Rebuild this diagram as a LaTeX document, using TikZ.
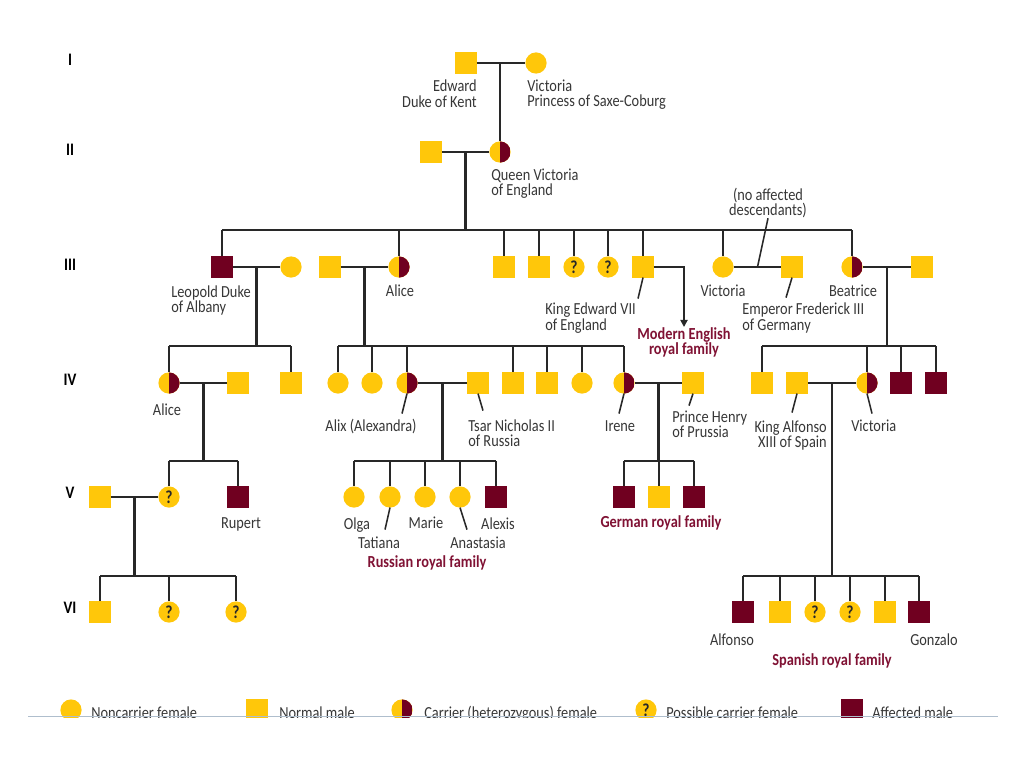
\documentclass[tikz,border=0pt]{standalone}
\usepackage{fontspec}
\setmainfont{Carlito}[FakeStretch=0.85]
\usetikzlibrary{arrows.meta,calc}
\definecolor{ink}{RGB}{40,40,40}
\definecolor{txt}{RGB}{55,55,55}
\definecolor{gold}{RGB}{255,199,10}
\definecolor{maroon}{RGB}{112,0,32}
\definecolor{famred}{RGB}{128,18,52}
\definecolor{rulegray}{RGB}{175,190,205}
\tikzset{
    kin/.style={draw=ink, line width=1.5pt},
    leader/.style={draw=ink, line width=1.1pt},
    sym/.style={minimum size=0.53cm, inner sep=0pt, outer sep=0pt},
    male/.style={sym, rectangle, fill=gold},
    affected/.style={sym, rectangle, fill=maroon},
    female/.style={sym, circle, fill=gold},
    carrier/.style={
        female,
        path picture={\fill[maroon] (path picture bounding box.north) rectangle (path picture bounding box.south east);}
    },
    possible/.style={
        female,
        label={[inner sep=0pt, text=ink, font=\bfseries\fontsize{13}{13}\selectfont]center:?}
    },
    pname/.style={inner sep=0pt, text=txt, font=\fontsize{12}{10.7}\selectfont},
    famlabel/.style={inner sep=0pt, text=famred, align=center, font=\bfseries\fontsize{12}{10.7}\selectfont},
    genlabel/.style={inner sep=0pt, text=black, font=\bfseries\fontsize{12.5}{12.5}\selectfont}
}

\begin{document}
\begin{tikzpicture}[x=0.025cm, y=-0.025cm]
\useasboundingbox[fill=white] (0,0) rectangle (1024,768);

% generations
\foreach \g/\y in {I/60, II/150, III/265, IV/380, V/493, VI/608}
    \node[genlabel] (gen\g) at (70,\y) {\g};

% people
\node[male] (edward) at (466,63) {};
\node[female] (victoria) at (536,63) {};
\node[male] (consort) at (431,152) {};
\node[carrier] (queen) at (500,152) {};
\foreach \n/\s/\x in {leopold/affected/222, leowife/female/291, alicehus/male/330, alice/carrier/399,
    son1/male/504, son2/male/539, dau1/possible/574, dau2/possible/608, edward7/male/643,
    vicIII/female/723, frederick/male/792, beatrice/carrier/852, beahus/male/922}
    \node[\s] (\n) at (\x,267) {};
\foreach \n/\s/\x in {aliceIV/carrier/169, aliceIVhus/male/238, leoson/male/291, hesse1/female/338,
    hesse2/female/372, alix/carrier/407, tsar/male/478, hesse4/male/513, hesse5/male/547,
    hesse6/female/582, irene/carrier/624, henry/male/693, bea1/male/762, alfonsoXIII/male/797,
    vicIV/carrier/867, bea3/affected/901, bea4/affected/936}
    \node[\s] (\n) at (\x,383) {};
\foreach \n/\s/\x in {vhus/male/100, vdau/possible/169, rupert/affected/238, olga/female/354,
    tatiana/female/390, marie/female/425, anastasia/female/460, alexis/affected/496,
    ger1/affected/624, ger2/male/659, ger3/affected/694}
    \node[\s] (\n) at (\x,497) {};
\foreach \n/\s/\x in {six1/male/100, six2/possible/169, six3/possible/236, sp1/affected/743,
    sp2/male/780, sp3/possible/815, sp4/possible/850, sp5/male/885, sp6/affected/919}
    \node[\s] (\n) at (\x,612) {};

% marriages
\foreach \a/\b in {edward/victoria, consort/queen, leopold/leowife, alicehus/alice, vicIII/frederick,
    beatrice/beahus, aliceIV/aliceIVhus, alix/tsar, irene/henry, alfonsoXIII/vicIV, vhus/vdau}
    \draw[kin] (\a) -- (\b);
\draw[kin] (queen.north |- edward) -- (queen.north);

% descent lines and sibling bars
\foreach \a/\b/\y/\first/\last/\kids in {
    consort/queen/230/leopold/beatrice/{leopold,alice,son1,son2,dau1,dau2,edward7,vicIII,beatrice},
    leopold/leowife/346/aliceIV/leoson/{aliceIV,leoson},
    alicehus/alice/346/hesse1/irene/{hesse1,hesse2,alix,hesse4,hesse5,hesse6,irene},
    beatrice/beahus/346/bea1/bea4/{bea1,vicIV,bea3,bea4},
    aliceIV/aliceIVhus/461/vdau/rupert/{vdau,rupert},
    alix/tsar/461/olga/alexis/{olga,tatiana,marie,anastasia,alexis},
    irene/henry/461/ger1/ger3/{ger1,ger2,ger3},
    alfonsoXIII/vicIV/576/sp1/sp6/{sp1,sp2,sp3,sp4,sp5,sp6},
    vhus/vdau/576/six1/six3/{six1,six2,six3}} {
    \coordinate (mid) at ($(\a)!.5!(\b)$);
    \coordinate (bar) at (0,\y);
    \draw[kin] (mid) -- (mid |- bar);
    \draw[kin] (bar -| \first) -- (bar -| \last);
    \foreach \c in \kids
        \draw[kin] (bar -| \c) -- (\c.north);
}

% names
\node[pname, anchor=north east, align=right] (edwardtxt) at (477,80) {Edward\\Duke of Kent};
\node[pname, anchor=north west, align=left] (victoriatxt) at (527,80) {Victoria\\Princess of Saxe-Coburg};
\node[pname, anchor=north west, align=left] (queentxt) at (491,169) {Queen Victoria\\of England};
\node[pname, anchor=north west, align=left] (leopoldtxt) at (171,285) {Leopold Duke\\of Albany};
\node[pname, anchor=north] (alicetxt) at (400,285) {Alice};
\node[pname, anchor=north west, align=left] (edward7txt) at (545,303) {King Edward VII\\of England};
\node[pname, anchor=north] (vicIIItxt) at (723,285) {Victoria};
\node[pname, anchor=north, align=center] (nodesc) at (768,188) {(no affected\\descendants)};
\node[pname, anchor=north west, align=left] (fredericktxt) at (742,303) {Emperor Frederick III\\of Germany};
\node[pname, anchor=north] (beatricetxt) at (853,285) {Beatrice};
\node[pname, anchor=north] (aliceIVtxt) at (167,403) {Alice};
\node[pname, anchor=north] (alixtxt) at (371,419) {Alix (Alexandra)};
\node[pname, anchor=north west, align=left] (tsartxt) at (468,419) {Tsar Nicholas II\\of Russia};
\node[pname, anchor=north] (irenetxt) at (620,420) {Irene};
\node[pname, anchor=north west, align=left] (henrytxt) at (672,411) {Prince Henry\\of Prussia};
\node[pname, anchor=north east, align=right] (alfonsotxt) at (827,420) {King Alfonso\\XIII of Spain};
\node[pname, anchor=north west] (vicIVtxt) at (851,420) {Victoria};
\node[pname, anchor=north] (ruperttxt) at (241,517) {Rupert};
\node[pname, anchor=north] (olgatxt) at (357,517) {Olga};
\node[pname, anchor=north] (tatianatxt) at (379,537) {Tatiana};
\node[pname, anchor=north] (marietxt) at (426,517) {Marie};
\node[pname, anchor=north] (anastasiatxt) at (478,537) {Anastasia};
\node[pname, anchor=north] (alexistxt) at (498,517) {Alexis};
\node[pname, anchor=north] (alfonsoVItxt) at (732,633) {Alfonso};
\node[pname, anchor=north] (gonzalotxt) at (934,633) {Gonzalo};

% family labels
\node[famlabel, anchor=north] (modern) at (684,327) {Modern English\\royal family};
\node[famlabel, anchor=north] (russian) at (427,555) {Russian royal family};
\node[famlabel, anchor=north] (german) at (661,515) {German royal family};
\node[famlabel, anchor=north] (spanish) at (832,653) {Spanish royal family};

% leaders
\draw[kin, -{Triangle[length=5pt, width=5pt]}] (edward7.east) -| (modern.north);
\coordinate (vf) at ($(vicIII)!.5!(frederick)$);
\draw[leader] (vf) -- (nodesc.south);
\draw[leader] (edward7.south) -- ++(-5,21);
\draw[leader] (frederick.south) -- ++(-6,20);
\draw[leader] (alix.south) -- ++(-5,20);
\draw[leader] (tsar.south) -- ++(5,17);
\draw[leader] (irene.south) -- ++(-5,20);
\draw[leader] (henry.south) -- ++(-4,12);
\draw[leader] (alfonsoXIII.south) -- ++(-5,19);
\draw[leader] (vicIV.south) -- ++(5,20);
\draw[leader] (tatiana.south) -- ++(-5,22);
\draw[leader] (anastasia.south) -- ++(7,22);

% key, cut off at the rule
\begin{scope}
    \clip (0,0) rectangle (1024,717);
    \node[female] (keyA) at (71,710) {};
    \node[male] (keyB) at (257,710) {};
    \node[carrier] (keyC) at (402,710) {};
    \node[possible] (keyD) at (646,710) {};
    \node[affected] (keyE) at (852,710) {};
    \node[pname, anchor=north west] (keyAtxt) at (91,706) {Noncarrier female};
    \node[pname, anchor=north west] (keyBtxt) at (279,706) {Normal male};
    \node[pname, anchor=north west] (keyCtxt) at (424,706) {Carrier (heterozygous) female};
    \node[pname, anchor=north west] (keyDtxt) at (666,706) {Possible carrier female};
    \node[pname, anchor=north west] (keyEtxt) at (872,706) {Affected male};
\end{scope}
\draw[rulegray, line width=1pt] (28,716.5) -- (998,716.5);

\end{tikzpicture}
\end{document}
